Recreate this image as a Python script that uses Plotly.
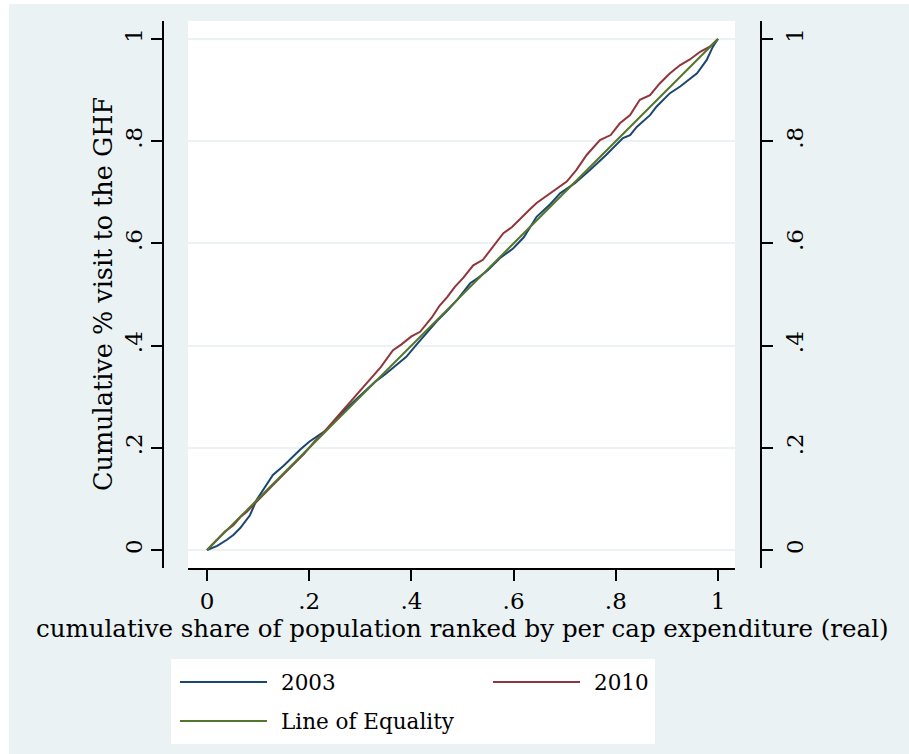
import plotly.graph_objects as go

# Concentration curves: cumulative share of GHF visits vs. population ranked by expenditure
pop_2003 = [0, 0.02, 0.039, 0.052, 0.065, 0.084, 0.097, 0.11, 0.129, 0.15, 0.165, 0.182,
            0.2, 0.215, 0.23, 0.25, 0.27, 0.29, 0.31, 0.33, 0.35, 0.37, 0.39, 0.41, 0.43,
            0.45, 0.47, 0.49, 0.515, 0.53, 0.55, 0.573, 0.599, 0.62, 0.645, 0.67, 0.691,
            0.72, 0.75, 0.78, 0.814, 0.828, 0.841, 0.867, 0.88, 0.906, 0.926, 0.945,
            0.959, 0.978, 0.990, 1.0]
visits_2003 = [0, 0.008, 0.020, 0.030, 0.043, 0.068, 0.098, 0.118, 0.147, 0.165, 0.18, 0.196,
               0.212, 0.222, 0.232, 0.252, 0.274, 0.293, 0.312, 0.33, 0.345, 0.362, 0.378,
               0.402, 0.425, 0.448, 0.468, 0.49, 0.522, 0.532, 0.548, 0.571, 0.590, 0.612,
               0.652, 0.675, 0.698, 0.718, 0.744, 0.772, 0.806, 0.812, 0.828, 0.851, 0.868,
               0.894, 0.907, 0.922, 0.933, 0.959, 0.985, 1.0]

pop_2010 = [0, 0.019, 0.035, 0.052, 0.065, 0.078, 0.097, 0.11, 0.13, 0.15, 0.17, 0.19, 0.21,
            0.23, 0.25, 0.27, 0.286, 0.30, 0.32, 0.34, 0.364, 0.38, 0.40, 0.417, 0.44, 0.455,
            0.47, 0.485, 0.501, 0.521, 0.54, 0.557, 0.58, 0.597, 0.613, 0.63, 0.645, 0.671,
            0.69, 0.704, 0.723, 0.743, 0.769, 0.79, 0.808, 0.828, 0.847, 0.867, 0.886,
            0.905, 0.926, 0.945, 0.965, 0.984, 1.0]
visits_2010 = [0, 0.020, 0.036, 0.049, 0.064, 0.075, 0.095, 0.108, 0.128, 0.148, 0.168, 0.188,
               0.212, 0.232, 0.255, 0.278, 0.297, 0.312, 0.335, 0.358, 0.391, 0.402, 0.418,
               0.427, 0.455, 0.478, 0.495, 0.515, 0.532, 0.557, 0.568, 0.590, 0.620, 0.632,
               0.649, 0.665, 0.679, 0.698, 0.712, 0.721, 0.744, 0.773, 0.802, 0.812, 0.835,
               0.851, 0.881, 0.890, 0.913, 0.932, 0.949, 0.960, 0.975, 0.985, 1.0]

equality = [0, 1]

tick_vals = [0, 0.2, 0.4, 0.6, 0.8, 1]
tick_text = ["0", ".2", ".4", ".6", ".8", "1"]

NAVY = "#1a476f"
MAROON = "#90353b"
GREEN = "#55752f"
BG = "#eaf2f3"
FONT = "DejaVu Serif"

W, H = 909, 754


def px(x):
    return x / W


def py(y):
    return 1 - y / H


fig = go.Figure()
fig.add_trace(go.Scatter(x=pop_2003, y=visits_2003, mode="lines", name="2003",
                         line=dict(color=NAVY, width=2), showlegend=False))
fig.add_trace(go.Scatter(x=pop_2010, y=visits_2010, mode="lines", name="2010",
                         line=dict(color=MAROON, width=2), showlegend=False))
fig.add_trace(go.Scatter(x=equality, y=equality, mode="lines", name="Line of Equality",
                         line=dict(color=GREEN, width=2), showlegend=False))
# carrier for the mirrored right-hand axis
fig.add_trace(go.Scatter(x=equality, y=equality, yaxis="y2", mode="lines",
                         line=dict(width=0, color="rgba(0,0,0,0)"),
                         hoverinfo="skip", showlegend=False))

x_range = [-0.0372, 1.0333]
y_range = [-0.0352, 1.0352]

axis_common = dict(
    tickvals=tick_vals, ticktext=tick_text, ticks="outside", ticklen=11,
    tickwidth=2, tickcolor="black", showline=True, linecolor="black", linewidth=2,
    tickfont=dict(family=FONT, size=23, color="black"), zeroline=False,
)

shapes = [
    # graph region background
    dict(type="rect", xref="paper", yref="paper", x0=px(9), x1=1, y0=0, y1=py(4),
         fillcolor=BG, line=dict(width=0), layer="below"),
    # plot region
    dict(type="rect", xref="paper", yref="paper", x0=px(188), x1=px(735), y0=py(568),
         y1=py(21), fillcolor="white", line=dict(width=0), layer="below"),
    # legend box
    dict(type="rect", xref="paper", yref="paper", x0=px(171), x1=px(655), y0=py(744),
         y1=py(659), fillcolor="white", line=dict(width=0), layer="below"),
]

legend_items = [("2003", NAVY, 180, 682), ("2010", MAROON, 493, 682),
                ("Line of Equality", GREEN, 180, 721)]
annotations = []
for label, color, x0, yc in legend_items:
    shapes.append(dict(type="line", xref="paper", yref="paper", x0=px(x0), x1=px(x0 + 87),
                       y0=py(yc), y1=py(yc), line=dict(color=color, width=2)))
    annotations.append(dict(text=label, xref="paper", yref="paper", x=px(x0 + 99), y=py(yc),
                            xanchor="left", yanchor="middle", showarrow=False,
                            font=dict(family=FONT, size=21.5, color="black")))

annotations.append(dict(text="cumulative share of population ranked by per cap expenditure (real)",
                        xref="paper", yref="paper", x=px(462), y=py(628), xanchor="center",
                        yanchor="middle", showarrow=False,
                        font=dict(family=FONT, size=24.5, color="black")))
annotations.append(dict(text="Cumulative % visit to the GHF", xref="paper", yref="paper",
                        x=px(103), y=py(294), xanchor="center", yanchor="middle",
                        textangle=-90, showarrow=False,
                        font=dict(family=FONT, size=25.5, color="black")))

fig.update_layout(
    width=W, height=H,
    margin=dict(l=0, r=0, t=0, b=0),
    paper_bgcolor="white", plot_bgcolor="rgba(0,0,0,0)",
    showlegend=False,
    xaxis=dict(domain=[px(188), px(735)], range=x_range, showgrid=False, **axis_common),
    yaxis=dict(domain=[py(568), py(21)], range=y_range, anchor="free", position=px(163),
               showgrid=True, gridcolor=BG, gridwidth=2, tickangle=-90, **axis_common),
    yaxis2=dict(range=y_range, overlaying="y", side="right", anchor="free",
                position=px(761), showgrid=False, tickangle=-90, ticklabelstandoff=2,
                **axis_common),
    shapes=shapes,
    annotations=annotations,
)

fig.write_html("out.html")
